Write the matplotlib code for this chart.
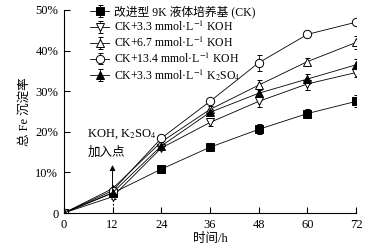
import matplotlib.pyplot as plt

plt.rcParams['font.family'] = ['Liberation Serif', 'Noto Sans CJK SC']
plt.rcParams['mathtext.fontset'] = 'stix'

hours = [0, 12, 24, 36, 48, 60, 72]
ck = [0, 4.9, 10.8, 16.2, 20.6, 24.5, 27.5]
ck_err = [0, 0.4, 0.4, 0.5, 1.2, 1.0, 1.5]
koh_33 = [0, 4.0, 16.0, 22.3, 27.5, 31.8, 34.6]
koh_33_err = [0, 0.5, 0.5, 0.8, 1.5, 1.5, 1.2]
koh_67 = [0, 6.0, 17.5, 25.5, 31.5, 37.3, 42.0]
koh_67_err = [0, 0.5, 0.5, 0.8, 1.2, 1.0, 1.5]
koh_134 = [0, 5.5, 18.4, 27.5, 37.0, 44.0, 47.0]
koh_134_err = [0, 0.5, 0.6, 0.5, 2.0, 0.6, 0.6]
k2so4 = [0, 5.0, 16.5, 24.8, 29.5, 33.0, 36.5]
k2so4_err = [0, 0.5, 0.5, 0.8, 1.5, 1.2, 1.5]

labels = ["改进型 9K 液体培养基 (CK)",
          "CK+3.3 mmol·L$^{-1}$ KOH",
          "CK+6.7 mmol·L$^{-1}$ KOH",
          "CK+13.4 mmol·L$^{-1}$ KOH",
          "CK+3.3 mmol·L$^{-1}$ K$_2$SO$_4$"]
yticks = [0, 10, 20, 30, 40, 50]
ytick_labels = ["0", "10%", "20%", "30%", "40%", "50%"]

fig = plt.figure(figsize=(3.71, 2.5), dpi=100)
ax = fig.add_axes([0.172, 0.148, 0.788, 0.812])

series = [
    (ck, ck_err, 's', 'black'),
    (koh_33, koh_33_err, 'v', 'white'),
    (koh_67, koh_67_err, '^', 'white'),
    (koh_134, koh_134_err, 'o', 'white'),
    (k2so4, k2so4_err, '^', 'black'),
]
for (vals, err, m, fc), lab in zip(series, labels):
    ax.errorbar(hours, vals, yerr=err, marker=m, mfc=fc, mec='black',
                color='black', lw=0.6, ms=6, mew=0.7, elinewidth=0.6,
                capsize=1.8, capthick=0.6, ecolor='black', label=lab)

# addition point arrow
ax.plot([12, 12], [0, 4], color='black', lw=0.7, ls=(0, (2, 2)))
ax.annotate("", xy=(12, 12.5), xytext=(12, 4),
            arrowprops=dict(arrowstyle='-|>', color='black', lw=0.7,
                            mutation_scale=8))
ax.text(5.8, 19.3, "KOH, K$_2$SO$_4$", fontsize=9, ha='left', va='center')
ax.text(5.8, 14.8, "加入点", fontsize=9, ha='left', va='center')

ax.set_xlim(0, 72)
ax.set_ylim(0, 50)
ax.set_xticks(hours)
ax.set_yticks(yticks)
ax.set_yticklabels(ytick_labels)
ax.tick_params(direction='in', labelsize=9, width=0.8, length=4, pad=4)
ax.spines['top'].set_visible(False)
ax.spines['right'].set_visible(False)
ax.set_xlabel("时间/h", fontsize=9, labelpad=2)
ax.set_ylabel("总 Fe 沉淀率", fontsize=9, labelpad=3)

ax.legend(loc='upper left', bbox_to_anchor=(0.075, 1.045), frameon=False,
          fontsize=8.5, handlelength=1.6, handletextpad=0.4, labelspacing=0.12,
          borderaxespad=0)

fig.savefig("out.png", dpi=100)
